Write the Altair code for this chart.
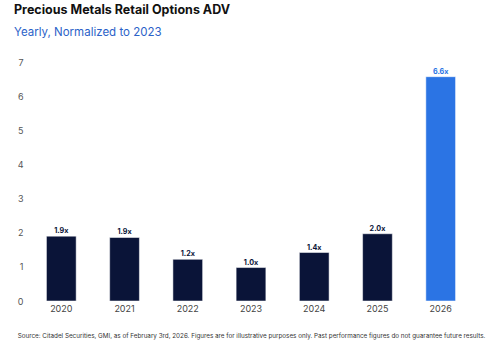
import altair as alt
import pandas as pd

years = ["2020", "2021", "2022", "2023", "2024", "2025", "2026"]
values = [1.9, 1.86, 1.22, 0.98, 1.42, 1.97, 6.57]
labels = ["1.9x", "1.9x", "1.2x", "1.0x", "1.4x", "2.0x", "6.6x"]
highlight = ["past", "past", "past", "past", "past", "past", "current"]

df = pd.DataFrame({"year": years, "value": values, "label": labels, "kind": highlight})

FONT = "Inter"
color_scale = alt.Scale(domain=["past", "current"], range=["#0a1438", "#2b74e4"])

base = alt.Chart(df).encode(
    x=alt.X(
        "year:N",
        sort=years,
        scale=alt.Scale(paddingInner=0.53, paddingOuter=0.26),
        axis=alt.Axis(
            title="Source: Citadel Securities, GMI, as of February 3rd, 2026. Figures are for illustrative purposes only. Past performance figures do not guarantee future results.",
            titleFont=FONT, titleFontSize=6.3, titleFontWeight="normal", titleColor="#333333",
            titlePadding=19,
            labelAngle=0, labelFont=FONT, labelFontSize=9, labelColor="#444444",
            labelPadding=3, domain=False, ticks=False, grid=False,
        ),
    ),
    y=alt.Y(
        "value:Q",
        scale=alt.Scale(domain=[0, 7], nice=False),
        axis=alt.Axis(
            title=None, values=[0, 1, 2, 3, 4, 5, 6, 7], format="d",
            labelFont=FONT, labelFontSize=9, labelColor="#555555",
            labelPadding=7, domain=False, ticks=False, grid=False,
        ),
    ),
)

bars = base.mark_bar(stroke="#ffffff", strokeWidth=0.5).encode(
    color=alt.Color("kind:N", scale=color_scale, legend=None)
)
text = base.mark_text(dy=-5, font=FONT, fontSize=7.2, fontWeight="bold").encode(
    text="label:N",
    color=alt.Color("kind:N", scale=color_scale, legend=None),
)

chart = (
    alt.layer(bars, text)
    .properties(
        width=442,
        height=239,
        autosize=alt.AutoSizeParams(type="none"),
        padding={"left": 30, "top": 62, "right": 28, "bottom": 46},
        title=alt.TitleParams(
            text="Precious Metals Retail Options ADV",
            subtitle="Yearly, Normalized to 2023",
            anchor="start",
            frame="group",
            dx=-16,
            offset=20,
            font=FONT, fontSize=12.5, fontWeight="bold", color="#111111",
            subtitleFont=FONT, subtitleFontSize=11.5, subtitleColor="#2b62c8",
            subtitlePadding=10,
        ),
    )
    .configure(background="#ffffff")
    .configure_view(strokeWidth=0, stroke="transparent")
)

chart.save("out.html", embed_options={"renderer": "svg", "actions": False})
